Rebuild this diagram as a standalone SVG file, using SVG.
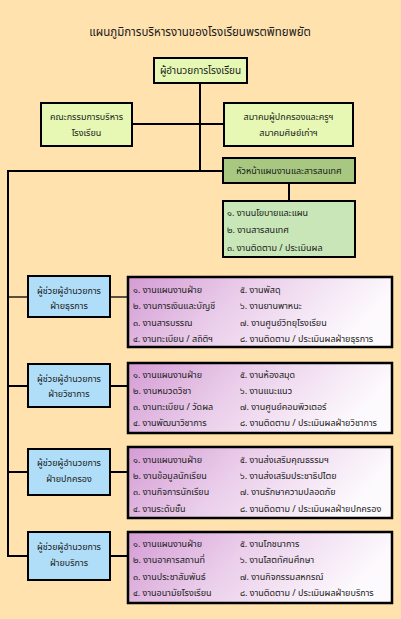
<svg xmlns="http://www.w3.org/2000/svg" width="401" height="619" viewBox="0 0 401 619">
<defs>
<linearGradient id="pg" x1="0" y1="0" x2="1" y2="0.25">
<stop offset="0" stop-color="#D49CD4"/>
<stop offset="0.45" stop-color="#EACDEA"/>
<stop offset="1" stop-color="#FDFAFD"/>
</linearGradient>
<style>
text { font-family: "Noto Sans Thai", "Noto Sans", "DejaVu Sans", sans-serif; font-size: 9px; fill: #1a1a1a; }
.c { text-anchor: middle; }
.title { font-size: 11.5px; }
.big { font-size: 10px; }
.pale { fill: #E6F8B4; stroke: #000; stroke-width: 2; }
.head { fill: #A8C882; stroke: #000; stroke-width: 2; }
.sub { fill: #C8E6B8; stroke: #000; stroke-width: 2; }
.blue { fill: #B0DEF8; stroke: #000; stroke-width: 2; }
.items { fill: url(#pg); stroke: #000; stroke-width: 2.5; }
.ln { stroke: #000; stroke-width: 2; fill: none; }
.thin { stroke: #000; stroke-width: 1.3; fill: none; }
</style>
</defs>
<rect width="401" height="619" fill="#FFE2AE"/>
<text class="title c" x="200" y="36">แผนภูมิการบริหารงานของโรงเรียนพรตพิทยพยัต</text>

<g id="connectors">
<line class="ln" x1="200" y1="83" x2="200" y2="171"/>
<line class="ln" x1="132" y1="124" x2="224" y2="124"/>
<polyline class="ln" points="223,171 8,171 8,556 28,556"/>
<line class="ln" x1="289" y1="183" x2="289" y2="201"/>
<line class="thin" x1="8" y1="297" x2="28" y2="297"/>
<line class="thin" x1="110" y1="297" x2="128" y2="297"/>
<line class="ln" x1="8" y1="386" x2="28" y2="386"/>
<line class="ln" x1="110" y1="386" x2="128" y2="386"/>
<line class="ln" x1="8" y1="472" x2="28" y2="472"/>
<line class="ln" x1="110" y1="472" x2="128" y2="472"/>
<line class="ln" x1="110" y1="556" x2="128" y2="556"/>
</g>

<g id="director">
<rect class="pale" x="154" y="58" width="93" height="25"/>
<text class="c big" x="200.5" y="74">ผู้อำนวยการโรงเรียน</text>
</g>
<g id="board">
<rect class="pale" x="41" y="103" width="91" height="43"/>
<text class="c" x="86.5" y="120">คณะกรรมการบริหาร</text>
<text class="c" x="86.5" y="136">โรงเรียน</text>
</g>
<g id="association">
<rect class="pale" x="224" y="103" width="129" height="43"/>
<text class="c" x="288.5" y="120">สมาคมผู้ปกครองและครูฯ</text>
<text class="c" x="288.5" y="136">สมาคมศิษย์เก่าฯ</text>
</g>
<g id="planning-head">
<rect class="head" x="223" y="158" width="132" height="25"/>
<text class="c" x="289" y="174">หัวหน้าแผนงานและสารสนเทศ</text>
</g>
<g id="planning-tasks">
<rect class="sub" x="223" y="201" width="132" height="56"/>
<text x="227" y="216">๑. งานนโยบายและแผน</text>
<text x="227" y="233">๒. งานสารสนเทศ</text>
<text x="227" y="251">๓. งานติดตาม / ประเมินผล</text>
</g>

<g id="general-admin">
<rect class="blue" x="28" y="276" width="82" height="41"/>
<text class="c" x="69" y="294">ผู้ช่วยผู้อำนวยการ</text>
<text class="c" x="69" y="309">ฝ่ายธุรการ</text>
</g>
<g id="general-admin-tasks">
<rect class="items" x="128" y="277" width="264" height="70"/>
<text x="133" y="293">๑. งานแผนงานฝ่าย</text>
<text x="133" y="309">๒. งานการเงินและบัญชี</text>
<text x="133" y="326">๓. งานสารบรรณ</text>
<text x="133" y="342">๔. งานทะเบียน / สถิติฯ</text>
<text x="240" y="293">๕. งานพัสดุ</text>
<text x="240" y="309">๖. งานยานพาหนะ</text>
<text x="240" y="326">๗. งานศูนย์วิทยุโรงเรียน</text>
<text x="240" y="342">๘. งานติดตาม / ประเมินผลฝ่ายธุรการ</text>
</g>

<g id="academic">
<rect class="blue" x="28" y="364" width="82" height="43"/>
<text class="c" x="69" y="382">ผู้ช่วยผู้อำนวยการ</text>
<text class="c" x="69" y="397">ฝ่ายวิชาการ</text>
</g>
<g id="academic-tasks">
<rect class="items" x="128" y="363" width="264" height="70"/>
<text x="133" y="378">๑. งานแผนงานฝ่าย</text>
<text x="133" y="394">๒. งานหมวดวิชา</text>
<text x="133" y="410">๓. งานทะเบียน / วัดผล</text>
<text x="133" y="426">๔. งานพัฒนาวิชาการ</text>
<text x="240" y="378">๕. งานห้องสมุด</text>
<text x="240" y="394">๖. งานแนะแนว</text>
<text x="240" y="410">๗. งานศูนย์คอมพิวเตอร์</text>
<text x="240" y="426">๘. งานติดตาม / ประเมินผลฝ่ายวิชาการ</text>
</g>

<g id="discipline">
<rect class="blue" x="28" y="449" width="82" height="46"/>
<text class="c" x="69" y="466">ผู้ช่วยผู้อำนวยการ</text>
<text class="c" x="69" y="482">ฝ่ายปกครอง</text>
</g>
<g id="discipline-tasks">
<rect class="items" x="128" y="447" width="264" height="71"/>
<text x="133" y="463">๑. งานแผนงานฝ่าย</text>
<text x="133" y="479">๒. งานข้อมูลนักเรียน</text>
<text x="133" y="495">๓. งานกิจการนักเรียน</text>
<text x="133" y="512">๔. งานระดับชั้น</text>
<text x="240" y="463">๕. งานส่งเสริมคุณธรรมฯ</text>
<text x="240" y="479">๖. งานส่งเสริมประชาธิปไตย</text>
<text x="240" y="495">๗. งานรักษาความปลอดภัย</text>
<text x="240" y="512">๘. งานติดตาม / ประเมินผลฝ่ายปกครอง</text>
</g>

<g id="services">
<rect class="blue" x="28" y="532" width="82" height="48"/>
<text class="c" x="69" y="550">ผู้ช่วยผู้อำนวยการ</text>
<text class="c" x="69" y="566">ฝ่ายบริการ</text>
</g>
<g id="services-tasks">
<rect class="items" x="128" y="532" width="264" height="71"/>
<text x="133" y="547">๑. งานแผนงานฝ่าย</text>
<text x="133" y="563">๒. งานอาคารสถานที่</text>
<text x="133" y="580">๓. งานประชาสัมพันธ์</text>
<text x="133" y="596">๔. งานอนามัยโรงเรียน</text>
<text x="240" y="547">๕. งานโภชนาการ</text>
<text x="240" y="563">๖. งานโสตทัศนศึกษา</text>
<text x="240" y="580">๗. งานกิจกรรมสหกรณ์</text>
<text x="240" y="596">๘. งานติดตาม / ประเมินผลฝ่ายบริการ</text>
</g>
</svg>
